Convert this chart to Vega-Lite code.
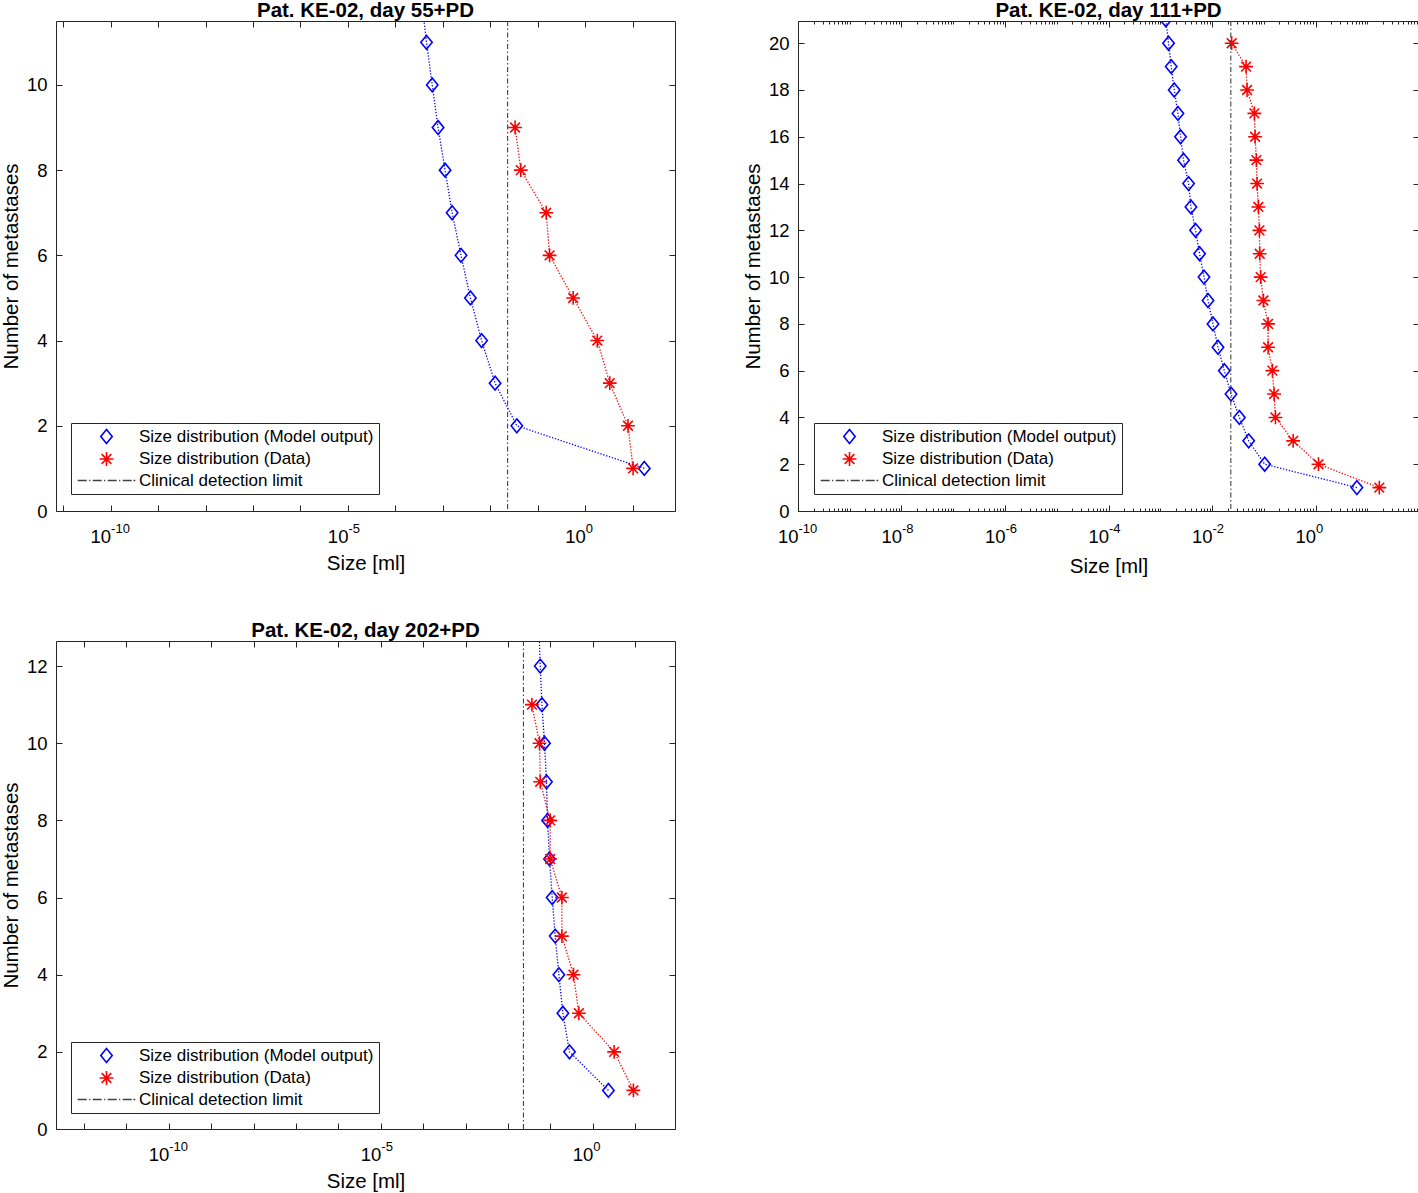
{
  "$schema": "https://vega.github.io/schema/vega-lite/v6.json",
  "padding": {"left": 0, "top": 0, "right": 0, "bottom": 0},
  "background": "white",
  "config": {
    "font": "Liberation Sans",
    "view": {"stroke": "#262626", "strokeWidth": 1},
    "axis": {"domain": false, "grid": false, "tickColor": "#262626", "tickWidth": 1, "labelColor": "#000000", "labelFontSize": 18.5, "titleFontSize": 20.5, "titleFontWeight": "normal", "titleColor": "#000000", "labelOverlap": false, "labelFlush": false, "labelBound": false},
    "title": {"fontSize": 20.5, "fontWeight": "bold", "offset": -1, "color": "#000000"},
    "legend": {"strokeColor": "#262626", "fillColor": "#ffffff", "padding": 5, "labelFontSize": 17, "labelColor": "#000000", "symbolSize": 144, "symbolStrokeWidth": 1.6, "labelOffset": 24, "rowPadding": 1.5, "symbolOffset": 22, "labelLimit": 400, "cornerRadius": 0}
  },
  "datasets": {
    "p1": [
      {"series": "Size distribution (Model output)", "n": 12, "size": 0.000355},
      {"series": "Size distribution (Model output)", "n": 11, "size": 0.000452},
      {"series": "Size distribution (Model output)", "n": 10, "size": 0.000597},
      {"series": "Size distribution (Model output)", "n": 9, "size": 0.000791},
      {"series": "Size distribution (Model output)", "n": 8, "size": 0.001114},
      {"series": "Size distribution (Model output)", "n": 7, "size": 0.001567},
      {"series": "Size distribution (Model output)", "n": 6, "size": 0.00241},
      {"series": "Size distribution (Model output)", "n": 5, "size": 0.0038},
      {"series": "Size distribution (Model output)", "n": 4, "size": 0.00655},
      {"series": "Size distribution (Model output)", "n": 3, "size": 0.01259},
      {"series": "Size distribution (Model output)", "n": 2, "size": 0.0361},
      {"series": "Size distribution (Model output)", "n": 1, "size": 17.5},
      {"series": "Size distribution (Data)", "n": 9, "size": 0.0332},
      {"series": "Size distribution (Data)", "n": 8, "size": 0.0438},
      {"series": "Size distribution (Data)", "n": 7, "size": 0.1503},
      {"series": "Size distribution (Data)", "n": 6, "size": 0.177},
      {"series": "Size distribution (Data)", "n": 5, "size": 0.556},
      {"series": "Size distribution (Data)", "n": 4, "size": 1.79},
      {"series": "Size distribution (Data)", "n": 3, "size": 3.28},
      {"series": "Size distribution (Data)", "n": 2, "size": 7.93},
      {"series": "Size distribution (Data)", "n": 1, "size": 10.16},
      {"series": "Clinical detection limit", "size": 0.0231}
    ],
    "p2": [
      {"series": "Size distribution (Model output)", "n": 21, "size": 0.00128},
      {"series": "Size distribution (Model output)", "n": 20, "size": 0.001445},
      {"series": "Size distribution (Model output)", "n": 19, "size": 0.001629},
      {"series": "Size distribution (Model output)", "n": 18, "size": 0.001862},
      {"series": "Size distribution (Model output)", "n": 17, "size": 0.002198},
      {"series": "Size distribution (Model output)", "n": 16, "size": 0.002466},
      {"series": "Size distribution (Model output)", "n": 15, "size": 0.002818},
      {"series": "Size distribution (Model output)", "n": 14, "size": 0.003524},
      {"series": "Size distribution (Model output)", "n": 13, "size": 0.003917},
      {"series": "Size distribution (Model output)", "n": 12, "size": 0.004808},
      {"series": "Size distribution (Model output)", "n": 11, "size": 0.005754},
      {"series": "Size distribution (Model output)", "n": 10, "size": 0.006998},
      {"series": "Size distribution (Model output)", "n": 9, "size": 0.008375},
      {"series": "Size distribution (Model output)", "n": 8, "size": 0.01045},
      {"series": "Size distribution (Model output)", "n": 7, "size": 0.01306},
      {"series": "Size distribution (Model output)", "n": 6, "size": 0.0173},
      {"series": "Size distribution (Model output)", "n": 5, "size": 0.02333},
      {"series": "Size distribution (Model output)", "n": 4, "size": 0.03381},
      {"series": "Size distribution (Model output)", "n": 3, "size": 0.05117},
      {"series": "Size distribution (Model output)", "n": 2, "size": 0.1042},
      {"series": "Size distribution (Model output)", "n": 1, "size": 6.31},
      {"series": "Size distribution (Data)", "n": 20, "size": 0.02399},
      {"series": "Size distribution (Data)", "n": 19, "size": 0.0455},
      {"series": "Size distribution (Data)", "n": 18, "size": 0.04764},
      {"series": "Size distribution (Data)", "n": 17, "size": 0.06592},
      {"series": "Size distribution (Data)", "n": 16, "size": 0.06792},
      {"series": "Size distribution (Data)", "n": 15, "size": 0.07211},
      {"series": "Size distribution (Data)", "n": 14, "size": 0.0743},
      {"series": "Size distribution (Data)", "n": 13, "size": 0.0787},
      {"series": "Size distribution (Data)", "n": 12, "size": 0.08241},
      {"series": "Size distribution (Data)", "n": 11, "size": 0.08356},
      {"series": "Size distribution (Data)", "n": 10, "size": 0.0873},
      {"series": "Size distribution (Data)", "n": 9, "size": 0.0984},
      {"series": "Size distribution (Data)", "n": 8, "size": 0.1213},
      {"series": "Size distribution (Data)", "n": 7, "size": 0.1213},
      {"series": "Size distribution (Data)", "n": 6, "size": 0.1469},
      {"series": "Size distribution (Data)", "n": 5, "size": 0.1585},
      {"series": "Size distribution (Data)", "n": 4, "size": 0.1683},
      {"series": "Size distribution (Data)", "n": 3, "size": 0.3698},
      {"series": "Size distribution (Data)", "n": 2, "size": 1.143},
      {"series": "Size distribution (Data)", "n": 1, "size": 17.1},
      {"series": "Clinical detection limit", "size": 0.0231}
    ],
    "p3": [
      {"series": "Size distribution (Model output)", "n": 13, "size": 0.0537},
      {"series": "Size distribution (Model output)", "n": 12, "size": 0.0574},
      {"series": "Size distribution (Model output)", "n": 11, "size": 0.063},
      {"series": "Size distribution (Model output)", "n": 10, "size": 0.0724},
      {"series": "Size distribution (Model output)", "n": 9, "size": 0.0807},
      {"series": "Size distribution (Model output)", "n": 8, "size": 0.0853},
      {"series": "Size distribution (Model output)", "n": 7, "size": 0.0951},
      {"series": "Size distribution (Model output)", "n": 6, "size": 0.1099},
      {"series": "Size distribution (Model output)", "n": 5, "size": 0.1294},
      {"series": "Size distribution (Model output)", "n": 4, "size": 0.1581},
      {"series": "Size distribution (Model output)", "n": 3, "size": 0.1963},
      {"series": "Size distribution (Model output)", "n": 2, "size": 0.2812},
      {"series": "Size distribution (Model output)", "n": 1, "size": 2.328},
      {"series": "Size distribution (Data)", "n": 11, "size": 0.03656},
      {"series": "Size distribution (Data)", "n": 10, "size": 0.05521},
      {"series": "Size distribution (Data)", "n": 9, "size": 0.05741},
      {"series": "Size distribution (Data)", "n": 8, "size": 0.09863},
      {"series": "Size distribution (Data)", "n": 7, "size": 0.09863},
      {"series": "Size distribution (Data)", "n": 6, "size": 0.1862},
      {"series": "Size distribution (Data)", "n": 5, "size": 0.1862},
      {"series": "Size distribution (Data)", "n": 4, "size": 0.3491},
      {"series": "Size distribution (Data)", "n": 3, "size": 0.4677},
      {"series": "Size distribution (Data)", "n": 2, "size": 3.177},
      {"series": "Size distribution (Data)", "n": 1, "size": 9.036},
      {"series": "Clinical detection limit", "size": 0.0231}
    ]
  },
  "resolve": {"scale": {"color": "independent", "shape": "independent"}, "legend": {"color": "independent", "shape": "independent"}},
  "spacing": 42,
  "vconcat": [
    {
      "spacing": 66,
      "resolve": {"scale": {"color": "independent", "shape": "independent"}, "legend": {"color": "independent", "shape": "independent"}},
      "hconcat": [
        {
          "width": 619, "height": 490,
          "title": {"text": "Pat. KE-02, day 55+PD"},
          "data": {"name": "p1"},
          "resolve": {"axis": {"x": "independent", "y": "independent"}},
          "layer": [
            {
              "transform": [{"filter": "datum.series != 'Clinical detection limit'"}],
              "mark": {"type": "point", "clip": true, "filled": false, "size": 144, "strokeWidth": 1.6, "opacity": 1},
              "encoding": {
                "x": {"field": "size", "type": "quantitative", "scale": {"type": "log", "domain": [7.08e-12, 77.6], "nice": false},
                  "axis": {"orient": "top", "title": null, "labels": false, "values": [1e-11, 1e-10, 1e-9, 1e-8, 1e-7, 1e-6, 1e-5, 1e-4, 1e-3, 1e-2, 1e-1, 1, 10], "tickSize": -6}},
                "y": {"field": "n", "type": "quantitative", "scale": {"domain": [0, 11.5], "nice": false},
                  "axis": {"orient": "right", "title": null, "labels": false, "values": [0, 2, 4, 6, 8, 10], "tickSize": -6}},
                "color": {"field": "series", "type": "nominal", "scale": {"domain": ["Size distribution (Model output)", "Size distribution (Data)", "Clinical detection limit"], "range": ["#0000ff", "#ff0000", "#404040"]}, "legend": {"title": null, "orient": "none", "legendX": 15, "legendY": 402}},
                "shape": {"field": "series", "type": "nominal", "scale": {"domain": ["Size distribution (Model output)", "Size distribution (Data)", "Clinical detection limit"], "range": ["M0,-1.15L0.95,0L0,1.15L-0.95,0Z", "M0,-1.15V1.15M-1.15,0H1.15M-0.81,-0.81L0.81,0.81M-0.81,0.81L0.81,-0.81", "M-4.8,0H-3.3M-2.9,0H-2.7M-2.3,0H-0.8M-0.4,0H-0.2M0.2,0H1.7M2.1,0H2.3M2.7,0H4.2M4.5,0H4.8"]}, "legend": {"title": null, "orient": "none", "legendX": 15, "legendY": 402}}
              }
            },
            {
              "transform": [{"filter": "datum.series != 'Clinical detection limit'"}],
              "mark": {"type": "line", "clip": true, "strokeWidth": 1.3, "strokeDash": [1.3, 1.7]},
              "encoding": {
                "x": {"field": "size", "type": "quantitative",
                  "axis": {"orient": "bottom", "title": "Size [ml]", "values": [1e-11, 1e-10, 1e-9, 1e-8, 1e-7, 1e-6, 1e-5, 1e-4, 1e-3, 1e-2, 1e-1, 1, 10], "tickSize": -6, "labelPadding": 22, "titlePadding": 8, "labelAlign": "right",
                    "labelExpr": "(round(log(datum.value)/LN10) == -10 || round(log(datum.value)/LN10) == -5 || round(log(datum.value)/LN10) == 0) ? '10' : ''"}},
                "y": {"field": "n", "type": "quantitative",
                  "axis": {"orient": "left", "title": "Number of metastases", "values": [0, 2, 4, 6, 8, 10], "tickSize": -6, "labelPadding": 15, "titlePadding": 5}},
                "color": {"field": "series", "type": "nominal"},
                "order": {"field": "n", "type": "quantitative"}
              }
            },
            {
              "transform": [{"filter": "datum.series == 'Clinical detection limit'"}],
              "mark": {"type": "rule", "strokeWidth": 1.1, "strokeDash": [5, 2.5, 1.5, 2.5]},
              "encoding": {
                "x": {"field": "size", "type": "quantitative",
                  "axis": {"orient": "bottom", "title": null, "ticks": false, "values": [1e-10, 1e-5, 1], "labelFontSize": 13, "labelAlign": "left", "labelPadding": 11.5,
                    "labelExpr": "'' + round(log(datum.value)/LN10)"}},
                "color": {"field": "series", "type": "nominal"}
              }
            }
          ]
        },
        {
          "width": 621, "height": 490,
          "title": {"text": "Pat. KE-02, day 111+PD"},
          "data": {"name": "p2"},
          "resolve": {"axis": {"x": "independent", "y": "independent"}},
          "layer": [
            {
              "transform": [{"filter": "datum.series != 'Clinical detection limit'"}],
              "mark": {"type": "point", "clip": true, "filled": false, "size": 144, "strokeWidth": 1.6, "opacity": 1},
              "encoding": {
                "x": {"field": "size", "type": "quantitative", "scale": {"type": "log", "domain": [1e-10, 100], "nice": false},
                  "axis": {"orient": "top", "title": null, "labels": false, "values": [1e-10,2e-10,3e-10,4e-10,5e-10,6e-10,7e-10,8e-10,9e-10,1e-9,2e-9,3e-9,4e-9,5e-9,6e-9,7e-9,8e-9,9e-9,1e-8,2e-8,3e-8,4e-8,5e-8,6e-8,7e-8,8e-8,9e-8,1e-7,2e-7,3e-7,4e-7,5e-7,6e-7,7e-7,8e-7,9e-7,1e-6,2e-6,3e-6,4e-6,5e-6,6e-6,7e-6,8e-6,9e-6,1e-5,2e-5,3e-5,4e-5,5e-5,6e-5,7e-5,8e-5,9e-5,1e-4,2e-4,3e-4,4e-4,5e-4,6e-4,7e-4,8e-4,9e-4,1e-3,2e-3,3e-3,4e-3,5e-3,6e-3,7e-3,8e-3,9e-3,1e-2,2e-2,3e-2,4e-2,5e-2,6e-2,7e-2,8e-2,9e-2,0.1,0.2,0.3,0.4,0.5,0.6,0.7,0.8,0.9,1,2,3,4,5,6,7,8,9,10,20,30,40,50,60,70,80,90,100],
                  "tickSize": {"condition": {"test": "abs(log(datum.value)/LN10/2 - round(log(datum.value)/LN10/2)) < 0.001", "value": -6}, "value": -3}}},
                "y": {"field": "n", "type": "quantitative", "scale": {"domain": [0, 20.95], "nice": false},
                  "axis": {"orient": "right", "title": null, "labels": false, "values": [0, 2, 4, 6, 8, 10, 12, 14, 16, 18, 20], "tickSize": -6}},
                "color": {"field": "series", "type": "nominal", "scale": {"domain": ["Size distribution (Model output)", "Size distribution (Data)", "Clinical detection limit"], "range": ["#0000ff", "#ff0000", "#404040"]}, "legend": {"title": null, "orient": "none", "legendX": 16, "legendY": 402}},
                "shape": {"field": "series", "type": "nominal", "scale": {"domain": ["Size distribution (Model output)", "Size distribution (Data)", "Clinical detection limit"], "range": ["M0,-1.15L0.95,0L0,1.15L-0.95,0Z", "M0,-1.15V1.15M-1.15,0H1.15M-0.81,-0.81L0.81,0.81M-0.81,0.81L0.81,-0.81", "M-4.8,0H-3.3M-2.9,0H-2.7M-2.3,0H-0.8M-0.4,0H-0.2M0.2,0H1.7M2.1,0H2.3M2.7,0H4.2M4.5,0H4.8"]}, "legend": {"title": null, "orient": "none", "legendX": 16, "legendY": 402}}
              }
            },
            {
              "transform": [{"filter": "datum.series != 'Clinical detection limit'"}],
              "mark": {"type": "line", "clip": true, "strokeWidth": 1.3, "strokeDash": [1.3, 1.7]},
              "encoding": {
                "x": {"field": "size", "type": "quantitative",
                  "axis": {"orient": "bottom", "title": "Size [ml]", "values": [1e-10,2e-10,3e-10,4e-10,5e-10,6e-10,7e-10,8e-10,9e-10,1e-9,2e-9,3e-9,4e-9,5e-9,6e-9,7e-9,8e-9,9e-9,1e-8,2e-8,3e-8,4e-8,5e-8,6e-8,7e-8,8e-8,9e-8,1e-7,2e-7,3e-7,4e-7,5e-7,6e-7,7e-7,8e-7,9e-7,1e-6,2e-6,3e-6,4e-6,5e-6,6e-6,7e-6,8e-6,9e-6,1e-5,2e-5,3e-5,4e-5,5e-5,6e-5,7e-5,8e-5,9e-5,1e-4,2e-4,3e-4,4e-4,5e-4,6e-4,7e-4,8e-4,9e-4,1e-3,2e-3,3e-3,4e-3,5e-3,6e-3,7e-3,8e-3,9e-3,1e-2,2e-2,3e-2,4e-2,5e-2,6e-2,7e-2,8e-2,9e-2,0.1,0.2,0.3,0.4,0.5,0.6,0.7,0.8,0.9,1,2,3,4,5,6,7,8,9,10,20,30,40,50,60,70,80,90,100],
                    "tickSize": {"condition": {"test": "abs(log(datum.value)/LN10/2 - round(log(datum.value)/LN10/2)) < 0.001", "value": -6}, "value": -3},
                    "labelPadding": 22, "titlePadding": 8, "labelAlign": "right",
                    "labelExpr": "(abs(log(datum.value)/LN10/2 - round(log(datum.value)/LN10/2)) < 0.001 && datum.value < 10) ? '10' : ''"}},
                "y": {"field": "n", "type": "quantitative",
                  "axis": {"orient": "left", "title": "Number of metastases", "values": [0, 2, 4, 6, 8, 10, 12, 14, 16, 18, 20], "tickSize": -6, "labelPadding": 15, "titlePadding": 5}},
                "color": {"field": "series", "type": "nominal"},
                "order": {"field": "n", "type": "quantitative"}
              }
            },
            {
              "transform": [{"filter": "datum.series == 'Clinical detection limit'"}],
              "mark": {"type": "rule", "strokeWidth": 1.1, "strokeDash": [5, 2.5, 1.5, 2.5]},
              "encoding": {
                "x": {"field": "size", "type": "quantitative",
                  "axis": {"orient": "bottom", "title": null, "ticks": false, "values": [1e-10, 1e-8, 1e-6, 1e-4, 1e-2, 1], "labelFontSize": 13, "labelAlign": "left", "labelPadding": 11.5,
                    "labelExpr": "'' + round(log(datum.value)/LN10)"}},
                "color": {"field": "series", "type": "nominal"}
              }
            }
          ]
        }
      ]
    },
    {
      "width": 619, "height": 488,
      "title": {"text": "Pat. KE-02, day 202+PD"},
      "data": {"name": "p3"},
      "resolve": {"axis": {"x": "independent", "y": "independent"}},
      "layer": [
        {
          "transform": [{"filter": "datum.series != 'Clinical detection limit'"}],
          "mark": {"type": "point", "clip": true, "filled": false, "size": 144, "strokeWidth": 1.6, "opacity": 1},
          "encoding": {
            "x": {"field": "size", "type": "quantitative", "scale": {"type": "log", "domain": [2.19e-13, 86.5], "nice": false},
              "axis": {"orient": "top", "title": null, "labels": false, "values": [1e-12, 1e-11, 1e-10, 1e-9, 1e-8, 1e-7, 1e-6, 1e-5, 1e-4, 1e-3, 1e-2, 1e-1, 1, 10], "tickSize": -6}},
            "y": {"field": "n", "type": "quantitative", "scale": {"domain": [0, 12.65], "nice": false},
              "axis": {"orient": "right", "title": null, "labels": false, "values": [0, 2, 4, 6, 8, 10, 12], "tickSize": -6}},
            "color": {"field": "series", "type": "nominal", "scale": {"domain": ["Size distribution (Model output)", "Size distribution (Data)", "Clinical detection limit"], "range": ["#0000ff", "#ff0000", "#404040"]}, "legend": {"title": null, "orient": "none", "legendX": 15, "legendY": 401}},
            "shape": {"field": "series", "type": "nominal", "scale": {"domain": ["Size distribution (Model output)", "Size distribution (Data)", "Clinical detection limit"], "range": ["M0,-1.15L0.95,0L0,1.15L-0.95,0Z", "M0,-1.15V1.15M-1.15,0H1.15M-0.81,-0.81L0.81,0.81M-0.81,0.81L0.81,-0.81", "M-4.8,0H-3.3M-2.9,0H-2.7M-2.3,0H-0.8M-0.4,0H-0.2M0.2,0H1.7M2.1,0H2.3M2.7,0H4.2M4.5,0H4.8"]}, "legend": {"title": null, "orient": "none", "legendX": 15, "legendY": 401}}
          }
        },
        {
          "transform": [{"filter": "datum.series != 'Clinical detection limit'"}],
          "mark": {"type": "line", "clip": true, "strokeWidth": 1.3, "strokeDash": [1.3, 1.7]},
          "encoding": {
            "x": {"field": "size", "type": "quantitative",
              "axis": {"orient": "bottom", "title": "Size [ml]", "values": [1e-12, 1e-11, 1e-10, 1e-9, 1e-8, 1e-7, 1e-6, 1e-5, 1e-4, 1e-3, 1e-2, 1e-1, 1, 10], "tickSize": -6, "labelPadding": 22, "titlePadding": 8, "labelAlign": "right",
                "labelExpr": "(round(log(datum.value)/LN10) == -10 || round(log(datum.value)/LN10) == -5 || round(log(datum.value)/LN10) == 0) ? '10' : ''"}},
            "y": {"field": "n", "type": "quantitative",
              "axis": {"orient": "left", "title": "Number of metastases", "values": [0, 2, 4, 6, 8, 10, 12], "tickSize": -6, "labelPadding": 15, "titlePadding": 5}},
            "color": {"field": "series", "type": "nominal"},
            "order": {"field": "n", "type": "quantitative"}
          }
        },
        {
          "transform": [{"filter": "datum.series == 'Clinical detection limit'"}],
          "mark": {"type": "rule", "strokeWidth": 1.1, "strokeDash": [5, 2.5, 1.5, 2.5]},
          "encoding": {
            "x": {"field": "size", "type": "quantitative",
              "axis": {"orient": "bottom", "title": null, "ticks": false, "values": [1e-10, 1e-5, 1], "labelFontSize": 13, "labelAlign": "left", "labelPadding": 11.5,
                "labelExpr": "'' + round(log(datum.value)/LN10)"}},
            "color": {"field": "series", "type": "nominal"}
          }
        }
      ]
    }
  ]
}
